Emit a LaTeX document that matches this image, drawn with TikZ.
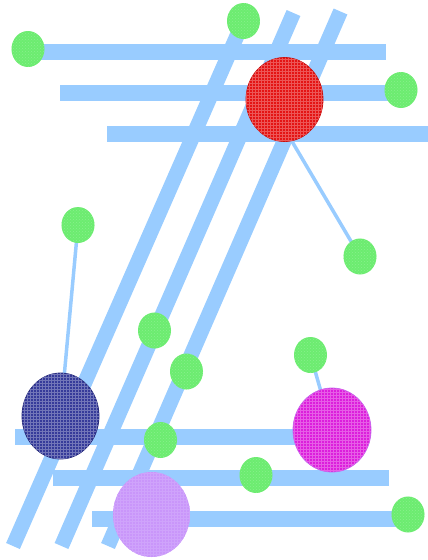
\documentclass[tikz,border=0pt]{standalone}
\usetikzlibrary{shapes.geometric,patterns,backgrounds}

\definecolor{barblue}{HTML}{99CCFF}
\definecolor{leafgreen}{HTML}{6CEC70}
\definecolor{hubred}{HTML}{E41414}
\definecolor{hubredline}{HTML}{C81010}
\definecolor{hubnavy}{HTML}{363B9A}
\definecolor{hubnavyline}{HTML}{262A7A}
\definecolor{hublilac}{HTML}{C996FA}
\definecolor{hubmagenta}{HTML}{DC1EDC}
\definecolor{hubmagentaline}{HTML}{C466EE}

\tikzset{
  x=1pt, y=-1pt,
  bar/.style={draw=barblue, line width=16.5pt},
  slant/.style={draw=barblue, line width=15pt},
  link/.style={draw=barblue, line width=3.5pt},
  leaf/.style={ellipse, fill=leafgreen, inner sep=0pt,
    minimum width=33pt, minimum height=36pt,
    postaction={pattern=crosshatch dots, pattern color=leafgreen!80!white}},
  hub/.style={ellipse, inner sep=0pt, line width=0.8pt,
    minimum width=77pt, minimum height=84pt},
  weave/.style={postaction={pattern=grid, pattern color=#1}},
}

\begin{document}
\begin{tikzpicture}
\useasboundingbox (0,0) rectangle (428,560);

% hubs
\node[hub, fill=hubred, draw=hubredline, weave=hubred!72!white] (red) at (284.5,99.5) {};
\node[hub, fill=hubnavy, draw=hubnavyline, minimum height=86pt, weave=hubnavy!70!white] (navy) at (60.5,416) {};
\node[hub, fill=hublilac, draw=none, minimum height=85pt, weave=hublilac!88!white] (lilac) at (151.5,514.5) {};
\node[hub, fill=hubmagenta, draw=hubmagentaline, minimum width=78pt, weave=hubmagenta!72!white] (magenta) at (332,430) {};

% leaves
\node[leaf] (g1)  at (28,49) {};
\node[leaf] (g2)  at (243.5,21) {};
\node[leaf] (g3)  at (401,90) {};
\node[leaf] (g4)  at (78,225) {};
\node[leaf] (g5)  at (360,256.5) {};
\node[leaf] (g6)  at (154.5,330.5) {};
\node[leaf] (g7)  at (186.5,371.5) {};
\node[leaf] (g8)  at (310.5,355) {};
\node[leaf] (g9)  at (160.5,440) {};
\node[leaf] (g10) at (256,475) {};
\node[leaf] (g11) at (408,514.5) {};

% free ends of the bars
\coordinate (h1a) at (28,52);   \coordinate (h1b) at (386,52);
\coordinate (h2a) at (60,93);   \coordinate (h2b) at (401,93);
\coordinate (h3a) at (107,134); \coordinate (h3b) at (432,134);
\coordinate (h4a) at (15,437);  \coordinate (h4b) at (310,437);
\coordinate (h5a) at (53,478);  \coordinate (h5b) at (389,478);
\coordinate (h6a) at (92,519);  \coordinate (h6b) at (408,519);
\coordinate (d1b) at (13,546);
\coordinate (d2a) at (293.5,13); \coordinate (d2b) at (61.5,546);
\coordinate (d3a) at (340.5,11.5); \coordinate (d3b) at (108,546);

\begin{scope}[on background layer]
  % horizontal bars
  \draw[bar] (h1a) -- (h1b);
  \draw[bar] (h2a) -- (h2b);
  \draw[bar] (h3a) -- (h3b);
  \draw[bar] (h4a) -- (h4b);
  \draw[bar] (h5a) -- (h5b);
  \draw[bar] (h6a) -- (h6b);
  % slanted bars
  \draw[slant] (g2.center) -- (d1b);
  \draw[slant] (d2a) -- (d2b);
  \draw[slant] (d3a) -- (d3b);
  % thin links
  \draw[link] (red.-80) -- (g5.center);
  \draw[link] (g4.center) -- (navy.center);
  \draw[link] (g8.center) -- (magenta.center);
\end{scope}
\end{tikzpicture}
\end{document}
